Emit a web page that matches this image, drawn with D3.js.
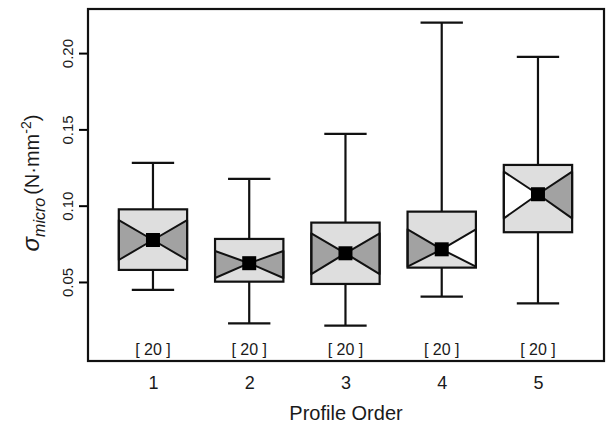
<!DOCTYPE html>
<html lang="en">
  <head>
    <meta charset="utf-8" />
    <title>Profile Order box plot</title>
    <script src="https://cdn.jsdelivr.net/npm/d3@7"></script>
    <style>
      body { margin: 0; background: #fff; }
      svg { font-family: "Liberation Sans", Arial, sans-serif; }
    </style>
  </head>
  <body>
    <div id="root"></div>

    <script type="text/javascript">
      /************************************
       * data
       ************************************/
      const profiles = [1, 2, 3, 4, 5];
      const whiskerHi = [0.128, 0.1175, 0.147, 0.22, 0.1975];
      const q3 = [0.0976, 0.0782, 0.0889, 0.0961, 0.1267];
      const notchHi = [0.0906, 0.0703, 0.0819, 0.0845, 0.1223];
      const medians = [0.0775, 0.0623, 0.0688, 0.0714, 0.1075];
      const notchLo = [0.0644, 0.0526, 0.0552, 0.06, 0.0917];
      const q1 = [0.0579, 0.0502, 0.0487, 0.0594, 0.0826];
      const whiskerLo = [0.0448, 0.0229, 0.0214, 0.0404, 0.036];
      const counts = [20, 20, 20, 20, 20];
      // which notch wedge is shaded ("grey") or left open ("white")
      const leftWedge = ["grey", "grey", "grey", "grey", "white"];
      const rightWedge = ["grey", "grey", "grey", "white", "grey"];
      const yTicks = [0.05, 0.1, 0.15, 0.2];

      const boxes = profiles.map((p, i) => ({
        p,
        whiHi: whiskerHi[i],
        q3: q3[i],
        nHi: notchHi[i],
        med: medians[i],
        nLo: notchLo[i],
        q1: q1[i],
        whiLo: whiskerLo[i],
        n: counts[i],
        left: leftWedge[i],
        right: rightWedge[i],
      }));

      /**********************************
       * chart
       *************************************/
      const width = 610;
      const height = 426;
      const marginTop = 9;
      const marginRight = 6;
      const marginBottom = 65;
      const marginLeft = 88;

      const xScale = d3
        .scaleLinear()
        .domain([0.325, 5.686])
        .range([marginLeft, width - marginRight]);

      const yScale = d3
        .scaleLinear()
        .domain([-0.0018, 0.2289])
        .range([height - marginBottom, marginTop]);

      const unit = xScale(2) - xScale(1);
      const boxW = 0.71 * unit;
      const capW = 0.44 * unit;
      const medSize = 14;
      const light = "#dedede";
      const dark = "#a2a2a2";

      const svg = d3
        .select("#root")
        .append("svg")
        .attr("width", width)
        .attr("height", height);

      // y-axis with rotated labels
      const yAxis = svg
        .append("g")
        .attr("transform", `translate(${marginLeft},0)`)
        .call(
          d3.axisLeft(yScale).tickValues(yTicks).tickSize(9).tickFormat(d3.format(".2f"))
        );
      yAxis.select(".domain").remove();
      yAxis.selectAll(".tick line").attr("stroke", "#000").attr("stroke-width", 2);
      yAxis
        .selectAll(".tick text")
        .attr("transform", "rotate(-90)")
        .attr("text-anchor", "middle")
        .attr("x", 0)
        .attr("y", -15)
        .attr("dy", 0)
        .attr("font-size", 15)
        .attr("fill", "#1a1a1a");

      // x-axis labels only
      const xAxis = svg
        .append("g")
        .attr("transform", `translate(0,${height - marginBottom})`)
        .call(d3.axisBottom(xScale).tickValues(profiles).tickSize(0).tickFormat(d3.format("d")));
      xAxis.select(".domain").remove();
      xAxis
        .selectAll(".tick text")
        .attr("y", 28)
        .attr("dy", 0)
        .attr("font-size", 18)
        .attr("fill", "#1a1a1a");

      const g = svg.selectAll("g.box").data(boxes).enter().append("g").attr("class", "box");

      // whiskers
      g.append("line")
        .attr("x1", (d) => xScale(d.p))
        .attr("x2", (d) => xScale(d.p))
        .attr("y1", (d) => yScale(d.whiHi))
        .attr("y2", (d) => yScale(d.q3));
      g.append("line")
        .attr("x1", (d) => xScale(d.p))
        .attr("x2", (d) => xScale(d.p))
        .attr("y1", (d) => yScale(d.q1))
        .attr("y2", (d) => yScale(d.whiLo));
      g.append("line")
        .attr("x1", (d) => xScale(d.p) - capW / 2)
        .attr("x2", (d) => xScale(d.p) + capW / 2)
        .attr("y1", (d) => yScale(d.whiHi))
        .attr("y2", (d) => yScale(d.whiHi));
      g.append("line")
        .attr("x1", (d) => xScale(d.p) - capW / 2)
        .attr("x2", (d) => xScale(d.p) + capW / 2)
        .attr("y1", (d) => yScale(d.whiLo))
        .attr("y2", (d) => yScale(d.whiLo));
      g.selectAll("line").attr("stroke", "#111").attr("stroke-width", 2.2);

      // box body
      g.append("rect")
        .attr("x", (d) => xScale(d.p) - boxW / 2)
        .attr("y", (d) => yScale(d.q3))
        .attr("width", boxW)
        .attr("height", (d) => yScale(d.q1) - yScale(d.q3))
        .attr("fill", light);

      // notch wedges
      g.append("path")
        .attr("d", (d) => {
          const x0 = xScale(d.p) - boxW / 2;
          return `M${x0},${yScale(d.nHi)}L${xScale(d.p)},${yScale(d.med)}L${x0},${yScale(d.nLo)}Z`;
        })
        .attr("fill", (d) => (d.left === "grey" ? dark : "#fff"));
      g.append("path")
        .attr("d", (d) => {
          const x1 = xScale(d.p) + boxW / 2;
          return `M${x1},${yScale(d.nHi)}L${xScale(d.p)},${yScale(d.med)}L${x1},${yScale(d.nLo)}Z`;
        })
        .attr("fill", (d) => (d.right === "grey" ? dark : "#fff"));
      g.selectAll("path").attr("stroke", "#111").attr("stroke-width", 2).attr("stroke-linejoin", "round");

      g.append("rect")
        .attr("x", (d) => xScale(d.p) - boxW / 2)
        .attr("y", (d) => yScale(d.q3))
        .attr("width", boxW)
        .attr("height", (d) => yScale(d.q1) - yScale(d.q3))
        .attr("fill", "none")
        .attr("stroke", "#111")
        .attr("stroke-width", 2.2);

      // median square
      g.append("rect")
        .attr("x", (d) => xScale(d.p) - medSize / 2)
        .attr("y", (d) => yScale(d.med) - medSize / 2)
        .attr("width", medSize)
        .attr("height", medSize)
        .attr("fill", "#000");

      // sample sizes
      g.append("text")
        .attr("x", (d) => xScale(d.p))
        .attr("y", height - marginBottom - 6)
        .attr("text-anchor", "middle")
        .attr("font-size", 16)
        .attr("fill", "#1a1a1a")
        .text((d) => `[ ${d.n} ]`);

      // frame
      svg
        .append("rect")
        .attr("x", marginLeft)
        .attr("y", marginTop)
        .attr("width", width - marginLeft - marginRight)
        .attr("height", height - marginTop - marginBottom)
        .attr("fill", "none")
        .attr("stroke", "#111")
        .attr("stroke-width", 2.2);

      // axis titles
      svg
        .append("text")
        .attr("x", (marginLeft + width - marginRight) / 2)
        .attr("y", 420)
        .attr("text-anchor", "middle")
        .attr("font-size", 20)
        .attr("fill", "#1a1a1a")
        .text("Profile Order");

      const yTitle = svg
        .append("text")
        .attr("transform", `translate(39,${(marginTop + height - marginBottom) / 2 - 2}) rotate(-90)`)
        .attr("text-anchor", "middle")
        .attr("font-size", 20)
        .attr("fill", "#1a1a1a");
      yTitle.append("tspan").attr("font-style", "italic").attr("font-size", 24).text("σ");
      yTitle
        .append("tspan")
        .attr("font-style", "italic")
        .attr("font-size", 16)
        .attr("dy", 6)
        .text("micro");
      yTitle.append("tspan").attr("dy", -6).attr("dx", 3).text("(N·mm");
      yTitle.append("tspan").attr("font-size", 14).attr("dy", -8).text("-2");
      yTitle.append("tspan").attr("dy", 8).text(")");
    </script>
  </body>
</html>
